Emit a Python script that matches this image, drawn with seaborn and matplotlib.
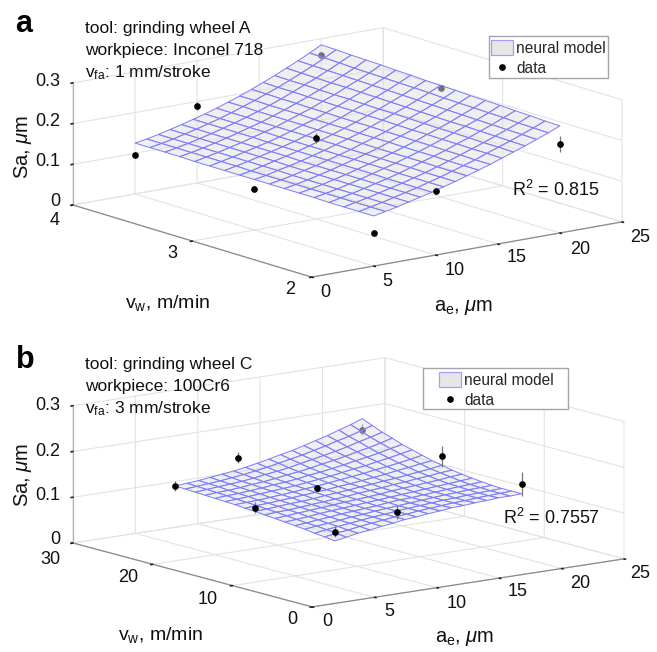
import numpy as np
import matplotlib
matplotlib.use("Agg")
import matplotlib.pyplot as plt
import seaborn as sns
from matplotlib.lines import Line2D
from matplotlib.patches import Patch, Rectangle
from mpl_toolkits.mplot3d import proj3d

W, H = 657, 652

# measured data points, one row per vw level, columns are ae_levels
ae_levels = [5, 10, 20]
vw_levels_a = [2, 3, 4]
vw_levels_b = [5, 15, 25]
sa_a = [[0.081, 0.157, 0.219], [0.101, 0.199, 0.268], [0.096, 0.189, 0.260]]
sa_b = [[0.120, 0.142, 0.162], [0.126, 0.148, 0.175], [0.127, 0.168, 0.187]]
err_a = [[0.008, 0.007, 0.020], [0.006, 0.012, 0.006], [0.004, 0.010, 0.006]]
err_b = [[0.012, 0.016, 0.026], [0.012, 0.006, 0.022], [0.010, 0.012, 0.012]]
# points that sit under the mesh and show through it
under_a = [[0, 0, 0], [0, 0, 1], [0, 0, 1]]
under_b = [[0, 0, 0], [0, 0, 0], [0, 0, 1]]

# neural model mesh, rows follow ae (5 to 20), columns follow vw
mesh_a = [
    [.123, .123, .123, .123, .124, .124, .124, .124, .124, .124, .124, .124, .124, .125, .125, .125, .125],
    [.129, .129, .129, .129, .129, .129, .129, .129, .129, .129, .130, .130, .130, .130, .130, .130, .130],
    [.135, .135, .135, .135, .135, .135, .135, .135, .136, .136, .136, .136, .136, .136, .136, .136, .136],
    [.142, .142, .142, .142, .142, .142, .142, .142, .142, .143, .143, .143, .143, .143, .143, .143, .143],
    [.149, .149, .149, .149, .149, .149, .149, .149, .149, .150, .150, .150, .150, .150, .150, .150, .150],
    [.156, .156, .156, .156, .157, .157, .157, .157, .157, .157, .157, .157, .158, .158, .158, .158, .158],
    [.164, .164, .164, .164, .165, .165, .165, .165, .165, .165, .165, .165, .166, .166, .166, .166, .166],
    [.172, .172, .172, .173, .173, .173, .173, .173, .174, .174, .174, .174, .174, .174, .175, .175, .175],
    [.181, .181, .181, .182, .182, .182, .182, .183, .183, .183, .183, .184, .184, .184, .184, .185, .185],
    [.190, .190, .190, .191, .191, .191, .192, .192, .192, .193, .193, .193, .194, .194, .194, .195, .195],
    [.199, .199, .200, .200, .201, .201, .202, .202, .203, .203, .203, .204, .204, .205, .205, .206, .206],
    [.209, .210, .210, .211, .211, .212, .212, .213, .214, .214, .215, .215, .216, .216, .217, .217, .218],
    [.219, .220, .220, .221, .222, .222, .223, .224, .225, .225, .226, .227, .227, .228, .229, .229, .230],
    [.229, .230, .231, .232, .233, .233, .234, .235, .236, .237, .238, .239, .240, .240, .241, .242, .243],
    [.240, .241, .242, .243, .244, .245, .246, .247, .248, .249, .250, .251, .252, .253, .254, .255, .256],
    [.251, .252, .253, .255, .256, .257, .258, .259, .261, .262, .263, .264, .265, .266, .268, .269, .270],
    [.263, .264, .266, .267, .269, .270, .271, .273, .274, .275, .277, .278, .280, .281, .282, .284, .285],
]
mesh_b = [
    [.100, .103, .105, .108, .110, .112, .114, .116, .118, .119, .121, .122, .123, .124, .125, .126, .127],
    [.104, .107, .109, .111, .112, .114, .116, .118, .119, .121, .122, .123, .125, .126, .127, .128, .129],
    [.109, .110, .112, .113, .115, .116, .118, .119, .121, .122, .123, .125, .126, .127, .129, .130, .131],
    [.112, .114, .115, .116, .117, .119, .120, .121, .123, .124, .125, .127, .128, .129, .131, .132, .134],
    [.116, .117, .118, .119, .120, .121, .122, .123, .124, .126, .127, .129, .130, .132, .133, .135, .137],
    [.119, .120, .121, .121, .122, .123, .124, .125, .126, .128, .129, .131, .133, .134, .136, .138, .140],
    [.123, .123, .123, .124, .124, .125, .126, .127, .129, .130, .132, .133, .135, .137, .140, .142, .144],
    [.125, .125, .126, .126, .126, .127, .128, .129, .131, .132, .134, .136, .138, .141, .143, .146, .149],
    [.128, .128, .128, .128, .129, .129, .130, .132, .133, .135, .137, .139, .142, .144, .147, .151, .154],
    [.130, .130, .130, .130, .131, .131, .132, .134, .136, .137, .140, .142, .145, .148, .152, .156, .160],
    [.133, .132, .132, .132, .132, .133, .135, .136, .138, .140, .143, .146, .149, .153, .157, .161, .165],
    [.134, .134, .134, .134, .134, .135, .137, .139, .141, .143, .146, .150, .153, .157, .162, .167, .172],
    [.136, .135, .135, .136, .136, .137, .139, .141, .143, .146, .150, .153, .158, .162, .167, .173, .179],
    [.137, .137, .137, .137, .138, .139, .141, .144, .146, .150, .153, .158, .162, .168, .173, .180, .186],
    [.139, .138, .138, .139, .140, .141, .143, .146, .149, .153, .157, .162, .167, .173, .180, .186, .194],
    [.139, .139, .139, .140, .141, .143, .146, .149, .152, .157, .161, .167, .173, .179, .186, .194, .202],
    [.140, .140, .140, .141, .143, .145, .148, .151, .156, .160, .166, .172, .178, .186, .193, .202, .211],
]

ae_ticks = [0, 5, 10, 15, 20, 25]
sa_ticks = [0, 0.1, 0.2, 0.3]
sa_ticklabels = ["0", "0.1", "0.2", "0.3"]
vw_ticks_a = [2, 3, 4]
vw_ticks_b = [0, 10, 20, 30]

sns.set_theme(style="white")
plt.rcParams["font.family"] = ["Liberation Sans", "DejaVu Sans"]
plt.rcParams["mathtext.fontset"] = "custom"
plt.rcParams["mathtext.rm"] = "Liberation Sans"
plt.rcParams["mathtext.it"] = "Liberation Sans:italic"

MESH_EDGE = "#7c7cfa"
MESH_FACE = (0.88, 0.88, 0.88, 0.5)
GRID = "#e3e3e3"
AXIS = "#8a8a8a"

fig = plt.figure(figsize=(W / 100, H / 100), dpi=100)


def pt(x, y):
    return x / W, 1 - y / H


def label(x, y, s, **kw):
    kw.setdefault("fontsize", 13)
    kw.setdefault("va", "center")
    kw.setdefault("color", "#111111")
    fig.text(*pt(x, y), s, **kw)


def corner_px(ax, x, y, z):
    px, py, _ = proj3d.proj_transform(x, y, z, ax.get_proj())
    return ax.transData.transform((px, py))


def fit_axes(ax, xr, yr, left, right):
    # scale and shift the square axes so the floor corners land where they should
    ax.set_position([0.1, 0.1, 0.8, 0.8 * W / H])
    ax.apply_aspect()
    a = corner_px(ax, xr[0], yr[1], 0)
    b = corner_px(ax, xr[1], yr[0], 0)
    k = (right[0] - left[0]) / (b[0] - a[0])
    pos = ax.get_position()
    w, h = pos.width * k, pos.height * k
    ax.set_position([pos.x0, pos.y0, w, h])
    ax.apply_aspect()
    a = corner_px(ax, xr[0], yr[1], 0)
    dx = (left[0] - a[0]) / W
    dy = ((H - left[1]) - a[1]) / H
    pos = ax.get_position()
    ax.set_position([pos.x0 + dx, pos.y0 + dy, pos.width, pos.height])


def draw_panel(view, aspect, xr, yr, vw_levels, vw_ticks, sa, err, under, mesh, left, right):
    ax = fig.add_subplot(projection="3d", computed_zorder=False, proj_type="ortho")
    ax.view_init(elev=view[0], azim=view[1])
    ax.set_box_aspect(aspect)
    ax.patch.set_alpha(0)
    ax.set_xlim(*xr, view_margin=0)
    ax.set_ylim(*yr, view_margin=0)
    ax.set_zlim(0, 0.3, view_margin=0)
    ax.set_xticks(ae_ticks)
    ax.set_yticks(vw_ticks)
    ax.set_zticks(sa_ticks)
    ax.set_xticklabels([])
    ax.set_yticklabels([])
    ax.set_zticklabels([])
    for axis in (ax.xaxis, ax.yaxis, ax.zaxis):
        axis.set_pane_color((1, 1, 1, 0))
        axis.pane.set_edgecolor(GRID)
        axis.line.set_color(AXIS)
        axis.line.set_linewidth(0.9)
        axis._axinfo["grid"]["color"] = GRID
        axis._axinfo["grid"]["linewidth"] = 0.8
        axis._axinfo["tick"]["inward_factor"] = 0.08
        axis._axinfo["tick"]["outward_factor"] = 0
        axis._axinfo["tick"]["color"] = AXIS
    ax.zaxis.set_ticks_position("upper")
    ax.zaxis.line.set_color("#b5b5b5")

    aa, vv = np.meshgrid(np.linspace(5, 20, 17), np.linspace(vw_levels[0], vw_levels[-1], 17), indexing="ij")
    ax.plot_surface(aa, vv, np.array(mesh), color=MESH_FACE, edgecolor=MESH_EDGE, linewidth=0.7,
                    rstride=1, cstride=1, shade=False, zorder=3)

    for j, vw in enumerate(vw_levels):
        for i, ae in enumerate(ae_levels):
            hidden = under[j][i]
            ax.errorbar([ae], [vw], [sa[j][i]], zerr=[err[j][i]], fmt="o", ms=3.8, color="black",
                        ecolor="#777777", elinewidth=0.9, capsize=0, zorder=2 if hidden else 5)
    fit_axes(ax, xr, yr, left, right)
    return ax


draw_panel((13.4, -127.5), (391, 392, 125.5), (0, 25), (2, 4), vw_levels_a, vw_ticks_a,
           sa_a, err_a, under_a, mesh_a, (73, 205), (622, 222))
draw_panel((11.7, -127.2), (391, 395, 140), (0, 25), (0, 30), vw_levels_b, vw_ticks_b,
           sa_b, err_b, under_b, mesh_b, (73, 543), (624, 559))

# panel a texts
label(24, 24, "a", fontsize=22, fontweight="bold", ha="center", color="black")
label(85, 28, "tool: grinding wheel A", fontsize=12.5)
label(85, 50, "workpiece: Inconel 718", fontsize=12.5)
label(85, 73, r"v$_{\mathrm{fa}}$: 1 mm/stroke", fontsize=12.5)
label(512, 190, r"R$^{2}$ = 0.815", fontsize=13)
label(23, 147, r"Sa, $\mu$m", rotation=90, ha="center", fontsize=14.5)
label(167, 303, r"v$_{\mathrm{w}}$, m/min", ha="center", fontsize=14)
label(464, 308, r"a$_{\mathrm{e}}$, $\mu$m", ha="center", fontsize=14.5)
for t, x, y in zip(sa_ticklabels, [55, 48, 48, 48], [201, 162, 122, 81]):
    label(x, y, t, ha="center")
for t, x, y in zip(vw_ticks_a, [290, 172, 55], [290, 254, 220]):
    label(x, y, str(t), ha="center")
for t, x, y in zip(ae_ticks, [325, 387, 455, 517, 580, 640], [292, 282, 270, 258, 249, 238]):
    label(x, y, str(t), ha="center")

# panel b texts
label(25, 360, "b", fontsize=22, fontweight="bold", ha="center", color="black")
label(85, 364, "tool: grinding wheel C", fontsize=12.5)
label(85, 387, "workpiece: 100Cr6", fontsize=12.5)
label(85, 409, r"v$_{\mathrm{fa}}$: 3 mm/stroke", fontsize=12.5)
label(503, 518, r"R$^{2}$ = 0.7557", fontsize=13)
label(23, 475, r"Sa, $\mu$m", rotation=90, ha="center", fontsize=14.5)
label(160, 635, r"v$_{\mathrm{w}}$, m/min", ha="center", fontsize=14)
label(465, 638, r"a$_{\mathrm{e}}$, $\mu$m", ha="center", fontsize=14.5)
for t, x, y in zip(sa_ticklabels, [55, 48, 48, 48], [540, 496, 451, 406]):
    label(x, y, t, ha="center")
for t, x, y in zip(vw_ticks_b, [292, 208, 128, 50], [620, 599, 578, 559]):
    label(x, y, str(t), ha="center")
for t, x, y in zip(ae_ticks, [327, 389, 457, 518, 580, 640], [622, 612, 603, 592, 583, 573]):
    label(x, y, str(t), ha="center")

handles = [Patch(facecolor="#e6e6e6", edgecolor="#a0a0f5", linewidth=0.9),
           Line2D([], [], ls="", marker="o", ms=3.8, color="black")]
names = ["neural model", "data"]
# legend boxes, then the legend itself without a frame so the padding can differ per panel
for box, anchor in [((489, 36, 608, 78), (491, 40)), ((423, 368, 568, 409), (439, 372))]:
    x0, y0 = pt(box[0], box[3])
    x1, y1 = pt(box[2], box[1])
    fig.add_artist(Rectangle((x0, y0), x1 - x0, y1 - y0, transform=fig.transFigure, facecolor="white",
                             edgecolor="#a5a5a5", linewidth=1, zorder=4))
    leg = fig.legend(handles, names, loc="upper left", bbox_to_anchor=pt(*anchor), fontsize=11.2,
                     frameon=False, borderaxespad=0, borderpad=0, handlelength=1.41, handleheight=1.09,
                     handletextpad=0.2, labelspacing=0.3)
    leg.set_zorder(5)

fig.savefig("out.png", dpi=100)
